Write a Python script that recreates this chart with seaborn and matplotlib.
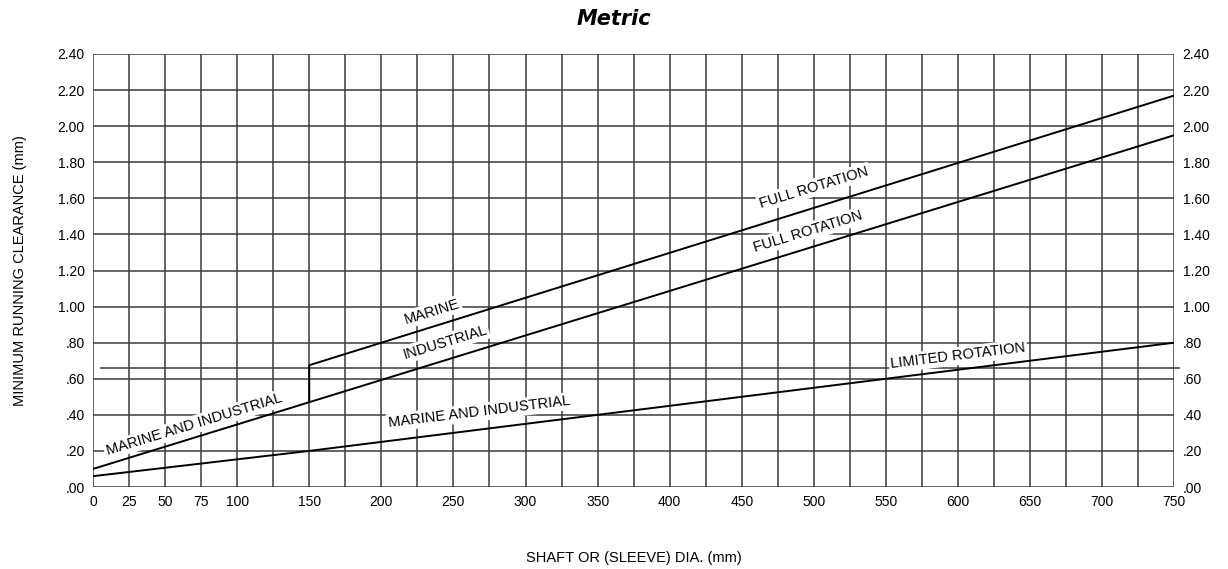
import numpy as np
import pandas as pd
import matplotlib
matplotlib.use("Agg")
import matplotlib.pyplot as plt
import seaborn as sns

# Data (shaft dia. in mm, clearance in mm)
limited_dia = [0, 150, 350, 600, 750]
limited_clr = [0.06, 0.20, 0.40, 0.65, 0.80]

industrial_dia = [0, 150, 750]
industrial_clr = [0.10, 0.47, 1.95]

marine_dia = [150, 150, 750]
marine_clr = [0.47, 0.675, 2.17]

x_ticks = [0, 25, 50, 75, 100, 150, 200, 250, 300, 350, 400, 450, 500, 550, 600, 650, 700, 750]
y_ticks = [0.0, 0.2, 0.4, 0.6, 0.8, 1.0, 1.2, 1.4, 1.6, 1.8, 2.0, 2.2, 2.4]
y_labels = [".00", ".20", ".40", ".60", ".80", "1.00", "1.20", "1.40", "1.60", "1.80", "2.00", "2.20", "2.40"]

# curve labels: text, x, y, angle
labels = [
    ("MARINE AND INDUSTRIAL", 70, 0.345, 17),
    ("MARINE", 235, 0.97, 17),
    ("INDUSTRIAL", 244, 0.80, 17),
    ("FULL ROTATION", 500, 1.66, 17),
    ("FULL ROTATION", 496, 1.415, 17),
    ("MARINE AND INDUSTRIAL", 268, 0.415, 7),
    ("LIMITED ROTATION", 600, 0.726, 7),
]

sns.set_style("white")
plt.rcParams['font.family'] = ['Liberation Sans', 'DejaVu Sans']
plt.rcParams['text.color'] = 'black'
plt.rcParams['axes.labelcolor'] = 'black'
plt.rcParams['xtick.color'] = 'black'
plt.rcParams['ytick.color'] = 'black'

fig = plt.figure(figsize=(12.28, 5.69), dpi=100)
ax = fig.add_axes([0.0757, 0.1441, 0.8806, 0.761])

# grid: every 25 mm and every 0.20 mm
grid_col = "#3a3a3a"
for gx in np.arange(0, 751, 25):
    ax.axvline(gx, color=grid_col, lw=1.1, zorder=1)
for gy in y_ticks:
    ax.axhline(gy, color=grid_col, lw=1.1, zorder=1)
ax.hlines(0.66, 5, 754, color=grid_col, lw=1.1, zorder=1, clip_on=False)

df_lim = pd.DataFrame({"dia": limited_dia, "clr": limited_clr})
df_ind = pd.DataFrame({"dia": industrial_dia, "clr": industrial_clr})
df_mar = pd.DataFrame({"dia": marine_dia, "clr": marine_clr})
for d in [df_lim, df_ind, df_mar]:
    sns.lineplot(data=d, x="dia", y="clr", ax=ax, color="black", lw=1.4,
                 estimator=None, sort=False, zorder=3)

for txt, lx, ly, ang in labels:
    ax.text(lx, ly, txt, rotation=ang, ha="center", va="center", fontsize=10.5,
            rotation_mode="anchor", zorder=4, color="black",
            bbox=dict(facecolor="white", edgecolor="none", pad=1.5))

ax.set_xlim(0, 750)
ax.set_ylim(0, 2.4)
ax.set_xticks(x_ticks)
ax.set_xticklabels([str(t) for t in x_ticks], fontsize=10)
ax.set_yticks(y_ticks)
ax.set_yticklabels(y_labels, fontsize=10)
ax.tick_params(length=0, pad=6)
for s in ax.spines.values():
    s.set_visible(False)

ax2 = ax.twinx()
ax2.set_ylim(0, 2.4)
ax2.set_yticks(y_ticks)
ax2.set_yticklabels(y_labels, fontsize=10)
ax2.tick_params(length=0, pad=6)
for s in ax2.spines.values():
    s.set_visible(False)

ax.set_xlabel("SHAFT OR (SLEEVE) DIA. (mm)", fontsize=10.5, labelpad=30)
ax.set_ylabel("MINIMUM RUNNING CLEARANCE (mm)", fontsize=10.5, labelpad=22)
fig.suptitle("Metric", fontsize=15, fontweight="bold", fontstyle="italic",
             family="DejaVu Sans", color="black", y=0.985)

fig.savefig("out.png", dpi=100)
